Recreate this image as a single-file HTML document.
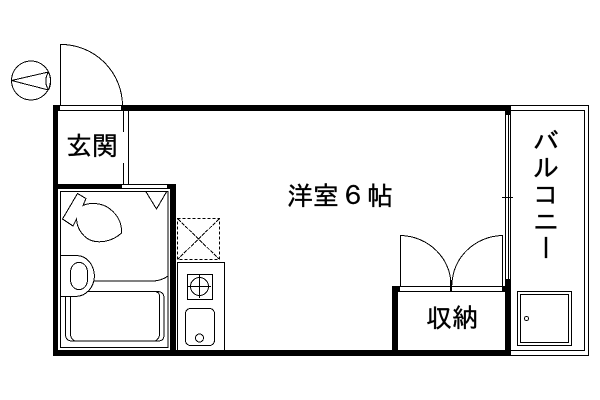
<!DOCTYPE html>
<html>
<head>
<meta charset="utf-8">
<style>
html,body{margin:0;padding:0;background:#fff;}
#w{position:relative;width:600px;height:400px;overflow:hidden;background:#fff;}
svg{position:absolute;left:0;top:0;}
.t{position:absolute;font-family:"Liberation Sans","IPAGothic",sans-serif;color:#000;font-size:26px;line-height:26px;white-space:nowrap;-webkit-text-stroke:0.35px #000;}
</style>
</head>
<body>
<div id="w">
<svg width="600" height="400" viewBox="0 0 600 400" fill="none" stroke="#000" stroke-width="1" shape-rendering="crispEdges">
<!-- compass -->
<circle cx="31" cy="80.5" r="19.5"/>
<path d="M11.5 80.5L48.5 72M11.5 80.5L48.5 90M48.5 72Q53 81 48.5 90M48.5 72Q43 81 48.5 90"/>
<!-- entrance door -->
<path d="M60.5 106V44.5A61.5 61.5 0 0 1 122.5 106"/>
<!-- black walls -->
<g fill="#000" stroke="none">
<rect x="53" y="105" width="7" height="6"/>
<rect x="121" y="105" width="390" height="6"/>
<rect x="53" y="105" width="5" height="251"/>
<rect x="53" y="184" width="69" height="5"/>
<rect x="167" y="184" width="9" height="5"/>
<rect x="170" y="184" width="6" height="172"/>
<rect x="53" y="350" width="458" height="6"/>
<rect x="505" y="105" width="6" height="10"/>
<rect x="505" y="279" width="6" height="77"/>
<rect x="392" y="286" width="6" height="70"/>
<rect x="392" y="286" width="8" height="6"/>
<rect x="502" y="286" width="9" height="6"/>
</g>
<!-- entrance threshold -->
<path d="M60 105.500H121M60 110.500H121"/>
<!-- genkan partition -->
<path d="M128.500 110V184M123.500 110V132M123.500 163V184"/>
<path d="M122 184.500H167M122 188.500H167"/>
<!-- bathroom inner -->
<rect x="60.500" y="191.500" width="107.500" height="156"/>
<path d="M145.500 191L156.500 209L167 191"/>
<!-- toilet -->
<path d="M77.500 193.500L86 198.500L83 205.500C90 202 103 203 110 209C119 216 122 225 121.500 233C113 241 100 244 90 240C82 236 77 228 76.500 219L73 226L62.500 219Z"/>
<!-- washbasin -->
<path d="M60 255.500H77C88 256 94 266 94.500 276C94 288 86 296 76 296.500H60"/>
<rect x="70.500" y="262.500" width="17" height="27" rx="8" ry="10"/>
<path d="M93.500 281H153C158 281 164 279 168 276"/>
<!-- tub -->
<path d="M65.500 296V334Q65.500 341 72 341H158Q164 341 164 335V298Q164 292 158 291.500H87"/>
<path d="M70.500 296V334Q70.500 339 75 341M159.500 296Q159.500 292 155 291.500M159.500 296V334Q159.500 339 155 341"/>
<!-- PS box -->
<rect x="177.500" y="218.500" width="42" height="41" stroke-dasharray="3 2"/>
<path d="M178 219L219 259M219 219L178 259" stroke-dasharray="4 1"/>
<!-- kitchen -->
<path d="M177 262.500H224.500V350M177.500 262V350"/>
<rect x="187.500" y="274.500" width="25" height="25"/>
<circle cx="199.500" cy="286.500" r="9"/>
<path d="M199.500 275V298M188 286.500H211"/>
<rect x="185.500" y="308.500" width="29" height="37" rx="5" ry="5"/>
<circle cx="199.500" cy="338" r="4"/>
<!-- window triple line -->
<path d="M505.500 115V280M508.500 115V280M510.500 115V280"/>
<path d="M502 197.500H513"/>
<!-- closet doors -->
<path d="M400.500 286V235.500C428 236 451 258 451 285M502.500 286V235.500C475 236 452 258 452 285"/>
<path d="M400 286.500H502M400 291.500H502"/>
<rect x="450" y="280" width="2" height="11" fill="#000" stroke="none"/>
<!-- balcony -->
<path d="M511 105.500H588.500V355.500H511M511 110.500H584.500V350.500H511"/>
<rect x="517.500" y="291.500" width="54" height="54"/>
<rect x="520.500" y="294.500" width="48" height="48"/>
<circle cx="526.500" cy="318.500" r="2"/>
</svg>
<div class="t" style="left:66px;top:133px;">玄関</div>
<div class="t" style="left:287px;top:183px;">洋室<span style="margin:0 1px;">６</span>帖</div>
<div class="t" style="left:426px;top:305px;">収納</div>
<div class="t" style="left:533px;top:127px;writing-mode:vertical-rl;letter-spacing:1px;">バルコニー</div>
</div>
</body>
</html>
